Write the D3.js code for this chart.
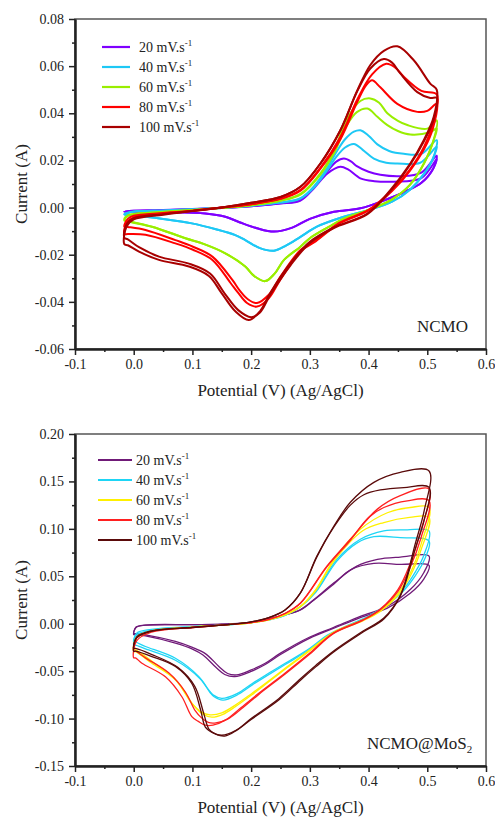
<!DOCTYPE html>
<html>
<head>
<meta charset="utf-8">
<script src="https://cdnjs.cloudflare.com/ajax/libs/d3/7.8.5/d3.min.js"></script>
<style>
	body { margin: 0; background: #fff; }
	svg text { font-family: "Liberation Serif", "Times New Roman", serif; fill: #222; }
</style>
</head>
<body>
<div class="chart"></div>
<script>
// scan rates (mV/s) and colours
var rates = ['20', '40', '60', '80', '100'];
var ncmoColors = ['#7f00ff', '#1ec8f5', '#99ee00', '#ff0000', '#a80000'];
var mosColors = ['#701a78', '#1ed5f5', '#fff000', '#ff2020', '#5a0a0a'];

// axis ticks
var xTicks = [-0.1, 0.0, 0.1, 0.2, 0.3, 0.4, 0.5, 0.6];
var xMinor = [-0.05, 0.05, 0.15, 0.25, 0.35, 0.45, 0.55];
var ncmoYTicks = [-0.06, -0.04, -0.02, 0.00, 0.02, 0.04, 0.06, 0.08];
var ncmoYMinor = [-0.05, -0.03, -0.01, 0.01, 0.03, 0.05, 0.07];
var mosYTicks = [-0.15, -0.10, -0.05, 0.00, 0.05, 0.10, 0.15, 0.20];
var mosYMinor = [-0.125, -0.075, -0.025, 0.025, 0.075, 0.125, 0.175];

// NCMO: [potential V, current A], anodic sweep then cathodic sweep, two cycles
var ncmoUp1 = [
	[[-0.016,-0.0018],[0.0,-0.0014],[0.05,-0.0011],[0.1,-0.0007],[0.15,-0.0002],[0.2,0.0006],[0.25,0.0018],[0.284,0.0032],[0.307,0.0088],[0.33,0.0155],[0.345,0.0195],[0.358,0.0208],[0.37,0.0196],[0.38,0.0176],[0.40,0.0152],[0.42,0.0139],[0.454,0.0133],[0.49,0.0148],[0.516,0.022]],
	[[-0.016,-0.003],[0.0,-0.0018],[0.05,-0.0013],[0.1,-0.0008],[0.15,-0.0002],[0.2,0.0008],[0.25,0.0022],[0.284,0.004],[0.307,0.009],[0.33,0.017],[0.345,0.0235],[0.36,0.029],[0.375,0.0322],[0.386,0.0328],[0.40,0.0305],[0.415,0.0268],[0.435,0.024],[0.46,0.0228],[0.49,0.0228],[0.516,0.0286]],
	[[-0.016,-0.0055],[-0.01,-0.0035],[0.0,-0.0028],[0.05,-0.0019],[0.1,-0.0011],[0.15,-0.0002],[0.2,0.001],[0.25,0.003],[0.284,0.0058],[0.318,0.0145],[0.341,0.024],[0.363,0.0375],[0.386,0.0452],[0.403,0.0463],[0.418,0.0445],[0.432,0.040],[0.45,0.0368],[0.466,0.035],[0.50,0.0335],[0.516,0.037]],
	[[-0.016,-0.008],[-0.01,-0.0048],[0.0,-0.0035],[0.05,-0.0023],[0.1,-0.0013],[0.15,0.0],[0.2,0.0014],[0.25,0.0038],[0.284,0.0075],[0.318,0.017],[0.352,0.030],[0.381,0.046],[0.406,0.0565],[0.43,0.061],[0.445,0.0595],[0.46,0.0555],[0.49,0.0495],[0.516,0.048]],
	[[-0.016,-0.0155],[-0.012,-0.008],[0.0,-0.005],[0.05,-0.003],[0.1,-0.0015],[0.15,0.0],[0.2,0.002],[0.25,0.0045],[0.284,0.0088],[0.318,0.0187],[0.352,0.0328],[0.381,0.0498],[0.403,0.0605],[0.426,0.0665],[0.449,0.0684],[0.477,0.0625],[0.505,0.0526],[0.516,0.05]]
];
var ncmoDown1 = [
	[[0.516,0.022],[0.51,0.0165],[0.49,0.0105],[0.46,0.0065],[0.426,0.003],[0.386,-0.0003],[0.341,-0.0018],[0.30,-0.0048],[0.27,-0.0085],[0.239,-0.0102],[0.21,-0.0088],[0.18,-0.0062],[0.156,-0.0039],[0.122,-0.0025],[0.06,-0.0019],[-0.01,-0.0018]],
	[[0.516,0.0286],[0.51,0.021],[0.495,0.0145],[0.47,0.0075],[0.44,0.0025],[0.40,-0.001],[0.358,-0.0039],[0.312,-0.0081],[0.284,-0.0124],[0.26,-0.016],[0.239,-0.0183],[0.215,-0.0172],[0.19,-0.0138],[0.173,-0.0117],[0.14,-0.0092],[0.099,-0.0067],[0.05,-0.0048],[0.02,-0.0039],[-0.01,-0.0032]],
	[[0.516,0.037],[0.51,0.028],[0.495,0.019],[0.47,0.0095],[0.44,0.0035],[0.40,-0.001],[0.36,-0.0045],[0.33,-0.0085],[0.30,-0.013],[0.284,-0.0166],[0.256,-0.0222],[0.24,-0.028],[0.224,-0.0312],[0.205,-0.029],[0.19,-0.025],[0.156,-0.0194],[0.12,-0.0155],[0.088,-0.013],[0.031,-0.0081],[-0.01,-0.0058]],
	[[0.516,0.048],[0.51,0.036],[0.495,0.026],[0.47,0.016],[0.44,0.0075],[0.40,-0.001],[0.35,-0.0065],[0.307,-0.0145],[0.284,-0.018],[0.25,-0.0293],[0.23,-0.037],[0.21,-0.0405],[0.195,-0.039],[0.18,-0.035],[0.168,-0.0307],[0.134,-0.0208],[0.1,-0.0165],[0.071,-0.0138],[0.02,-0.0095],[-0.01,-0.0082]],
	[[0.516,0.05],[0.511,0.0385],[0.494,0.0286],[0.471,0.0187],[0.437,0.0074],[0.398,-0.0025],[0.34,-0.0085],[0.30,-0.0145],[0.267,-0.0236],[0.233,-0.036],[0.215,-0.044],[0.196,-0.0477],[0.173,-0.044],[0.15,-0.0364],[0.128,-0.029],[0.094,-0.025],[0.043,-0.0222],[0.009,-0.0187],[-0.01,-0.016]]
];
var ncmoUp2 = [
	[[-0.016,-0.0017],[0.0,-0.0013],[0.05,-0.001],[0.1,-0.0006],[0.15,-0.0001],[0.2,0.0006],[0.25,0.0017],[0.284,0.003],[0.307,0.0082],[0.33,0.0145],[0.352,0.0173],[0.365,0.0162],[0.386,0.0124],[0.41,0.0112],[0.443,0.011],[0.49,0.0125],[0.516,0.0205]],
	[[-0.016,-0.0028],[0.0,-0.0017],[0.05,-0.0012],[0.1,-0.0007],[0.15,-0.0001],[0.2,0.0008],[0.25,0.0021],[0.284,0.0038],[0.307,0.0085],[0.33,0.016],[0.345,0.0215],[0.36,0.0255],[0.375,0.027],[0.39,0.0245],[0.409,0.0208],[0.43,0.019],[0.449,0.0187],[0.488,0.019],[0.516,0.0258]],
	[[-0.016,-0.005],[-0.01,-0.0033],[0.0,-0.0027],[0.05,-0.0018],[0.1,-0.001],[0.15,-0.0001],[0.2,0.001],[0.25,0.0029],[0.284,0.0055],[0.318,0.014],[0.341,0.023],[0.363,0.035],[0.38,0.0405],[0.398,0.042],[0.415,0.0385],[0.432,0.035],[0.45,0.0325],[0.471,0.031],[0.505,0.032],[0.516,0.0335]],
	[[-0.016,-0.0112],[-0.012,-0.0065],[0.0,-0.0042],[0.05,-0.0025],[0.1,-0.0014],[0.15,0.0],[0.2,0.0014],[0.25,0.0037],[0.284,0.0072],[0.318,0.0165],[0.352,0.029],[0.381,0.045],[0.396,0.052],[0.406,0.054],[0.42,0.051],[0.449,0.044],[0.483,0.0406],[0.50,0.041],[0.516,0.044]],
	[[-0.016,-0.0128],[-0.012,-0.007],[0.0,-0.0045],[0.05,-0.0028],[0.1,-0.0014],[0.15,0.0],[0.2,0.002],[0.25,0.0045],[0.284,0.0088],[0.318,0.0187],[0.352,0.0328],[0.381,0.0495],[0.403,0.059],[0.426,0.063],[0.44,0.0615],[0.454,0.0569],[0.483,0.049],[0.505,0.0465],[0.516,0.0465]]
];
var ncmoDown2 = [
	ncmoDown1[0],
	ncmoDown1[1],
	ncmoDown1[2],
	[[0.516,0.044],[0.51,0.034],[0.495,0.025],[0.47,0.0155],[0.44,0.007],[0.40,-0.0012],[0.35,-0.0068],[0.307,-0.0148],[0.284,-0.0185],[0.25,-0.0305],[0.23,-0.0385],[0.21,-0.042],[0.193,-0.0405],[0.178,-0.0362],[0.165,-0.032],[0.134,-0.0222],[0.1,-0.0178],[0.071,-0.0152],[0.02,-0.0115],[-0.01,-0.0112]],
	[[0.516,0.0465],[0.511,0.0375],[0.494,0.028],[0.471,0.0183],[0.437,0.007],[0.398,-0.0028],[0.34,-0.0088],[0.30,-0.015],[0.267,-0.0245],[0.233,-0.0368],[0.215,-0.0445],[0.2,-0.0465],[0.178,-0.0435],[0.155,-0.0365],[0.13,-0.028],[0.094,-0.0238],[0.043,-0.0208],[0.009,-0.0168],[-0.01,-0.0135]]
];

// NCMO@MoS2
var mosUp1 = [
	[[0.0,-0.0105],[0.004,-0.004],[0.02,-0.0015],[0.1,-0.001],[0.15,-0.0005],[0.2,0.0015],[0.23,0.005],[0.258,0.0095],[0.284,0.0148],[0.307,0.0254],[0.341,0.0431],[0.38,0.0607],[0.415,0.0678],[0.454,0.0702],[0.503,0.0713]],
	[[0.0,-0.0195],[0.005,-0.01],[0.03,-0.006],[0.1,-0.003],[0.15,-0.0015],[0.2,0.001],[0.23,0.004],[0.258,0.009],[0.284,0.018],[0.31,0.034],[0.346,0.0678],[0.386,0.089],[0.426,0.0978],[0.466,0.0989],[0.503,0.0978]],
	[[0.0,-0.0295],[0.005,-0.015],[0.03,-0.008],[0.1,-0.0035],[0.15,-0.0015],[0.2,0.001],[0.23,0.004],[0.258,0.0095],[0.284,0.0184],[0.31,0.036],[0.341,0.0678],[0.386,0.0996],[0.432,0.117],[0.471,0.1225],[0.503,0.1225]],
	[[0.0,-0.036],[0.005,-0.018],[0.03,-0.009],[0.1,-0.004],[0.15,-0.0015],[0.2,0.0012],[0.23,0.0045],[0.258,0.011],[0.284,0.0219],[0.329,0.0607],[0.369,0.089],[0.415,0.1208],[0.454,0.135],[0.503,0.142]],
	[[0.0,-0.029],[0.005,-0.015],[0.03,-0.008],[0.1,-0.004],[0.15,-0.0015],[0.2,0.002],[0.23,0.0065],[0.258,0.0148],[0.284,0.0325],[0.312,0.0713],[0.341,0.103],[0.369,0.128],[0.409,0.149],[0.454,0.1596],[0.503,0.161]]
];
var mosDown1 = [
	[[0.503,0.0713],[0.494,0.0537],[0.471,0.036],[0.432,0.0184],[0.386,0.0078],[0.34,-0.004],[0.30,-0.014],[0.25,-0.031],[0.224,-0.0417],[0.199,-0.049],[0.175,-0.054],[0.16,-0.0525],[0.145,-0.045],[0.122,-0.0315],[0.1,-0.025],[0.071,-0.0187],[0.02,-0.0117],[0.003,-0.0105]],
	[[0.503,0.0978],[0.494,0.072],[0.48,0.055],[0.46,0.037],[0.43,0.02],[0.40,0.008],[0.36,-0.003],[0.33,-0.012],[0.30,-0.0258],[0.258,-0.0417],[0.225,-0.054],[0.202,-0.063],[0.175,-0.074],[0.15,-0.0787],[0.135,-0.075],[0.128,-0.07],[0.111,-0.0558],[0.071,-0.0364],[0.02,-0.024],[0.003,-0.0195]],
	[[0.503,0.1225],[0.49,0.085],[0.47,0.052],[0.45,0.032],[0.42,0.014],[0.39,0.004],[0.34,-0.009],[0.30,-0.0275],[0.26,-0.046],[0.224,-0.063],[0.2,-0.074],[0.173,-0.0858],[0.15,-0.094],[0.13,-0.096],[0.115,-0.093],[0.099,-0.084],[0.071,-0.059],[0.031,-0.0417],[0.003,-0.0295]],
	[[0.503,0.142],[0.49,0.10],[0.47,0.062],[0.45,0.036],[0.42,0.0155],[0.39,0.004],[0.34,-0.0099],[0.30,-0.031],[0.258,-0.052],[0.213,-0.0734],[0.18,-0.09],[0.156,-0.1017],[0.135,-0.107],[0.122,-0.107],[0.11,-0.103],[0.099,-0.098],[0.082,-0.077],[0.054,-0.056],[0.014,-0.0417],[0.003,-0.036]],
	[[0.503,0.161],[0.495,0.12],[0.48,0.0854],[0.454,0.03],[0.426,0.006],[0.39,-0.008],[0.34,-0.029],[0.31,-0.044],[0.284,-0.058],[0.247,-0.079],[0.2,-0.1],[0.175,-0.112],[0.15,-0.1176],[0.135,-0.115],[0.122,-0.109],[0.114,-0.091],[0.099,-0.063],[0.071,-0.045],[0.031,-0.0346],[0.003,-0.029]]
];
var mosUp2 = [
	[[0.0,-0.0115],[0.004,-0.0035],[0.02,-0.0014],[0.1,-0.001],[0.15,-0.0005],[0.2,0.0014],[0.23,0.0048],[0.258,0.0092],[0.284,0.0145],[0.307,0.025],[0.341,0.042],[0.37,0.057],[0.409,0.0636],[0.454,0.0625],[0.503,0.0614]],
	[[0.0,-0.0225],[0.005,-0.012],[0.03,-0.007],[0.1,-0.003],[0.15,-0.0015],[0.2,0.001],[0.23,0.004],[0.258,0.0088],[0.284,0.0178],[0.31,0.033],[0.346,0.066],[0.38,0.085],[0.409,0.0918],[0.454,0.0907],[0.503,0.0872]],
	[[0.0,-0.0275],[0.005,-0.014],[0.03,-0.0075],[0.1,-0.0035],[0.15,-0.0015],[0.2,0.001],[0.23,0.004],[0.258,0.0093],[0.284,0.018],[0.31,0.035],[0.341,0.066],[0.39,0.098],[0.426,0.1067],[0.47,0.112],[0.503,0.112]],
	[[0.0,-0.029],[0.005,-0.015],[0.03,-0.008],[0.1,-0.004],[0.15,-0.0015],[0.2,0.0012],[0.23,0.0045],[0.258,0.0108],[0.284,0.0215],[0.329,0.06],[0.369,0.088],[0.40,0.112],[0.426,0.1225],[0.466,0.1296],[0.503,0.1296]],
	[[0.0,-0.026],[0.005,-0.014],[0.03,-0.0075],[0.1,-0.0038],[0.15,-0.0015],[0.2,0.002],[0.23,0.0063],[0.258,0.0145],[0.284,0.0325],[0.312,0.0705],[0.341,0.102],[0.369,0.125],[0.392,0.136],[0.42,0.141],[0.46,0.1435],[0.503,0.1437]]
];
var mosDown2 = [
	[[0.503,0.0614],[0.494,0.047],[0.471,0.032],[0.432,0.0165],[0.386,0.0065],[0.34,-0.005],[0.30,-0.0152],[0.25,-0.0325],[0.224,-0.043],[0.199,-0.0505],[0.172,-0.0558],[0.155,-0.0535],[0.14,-0.046],[0.118,-0.033],[0.1,-0.0268],[0.071,-0.0205],[0.02,-0.0128],[0.003,-0.0115]],
	[[0.503,0.0872],[0.494,0.066],[0.48,0.051],[0.46,0.035],[0.43,0.019],[0.40,0.0072],[0.36,-0.0038],[0.33,-0.0128],[0.30,-0.027],[0.258,-0.043],[0.225,-0.0555],[0.202,-0.0645],[0.175,-0.0755],[0.152,-0.0805],[0.137,-0.077],[0.13,-0.0725],[0.113,-0.058],[0.071,-0.0385],[0.02,-0.0265],[0.003,-0.0225]],
	[[0.503,0.112],[0.49,0.079],[0.47,0.049],[0.45,0.030],[0.42,0.013],[0.39,0.003],[0.34,-0.0098],[0.30,-0.0285],[0.26,-0.047],[0.224,-0.064],[0.2,-0.0755],[0.173,-0.0875],[0.152,-0.0955],[0.133,-0.0985],[0.118,-0.0955],[0.102,-0.086],[0.074,-0.061],[0.031,-0.0395],[0.003,-0.0275]],
	[[0.503,0.1296],[0.49,0.092],[0.47,0.058],[0.45,0.034],[0.42,0.0148],[0.39,0.0035],[0.34,-0.0105],[0.30,-0.032],[0.258,-0.053],[0.213,-0.0745],[0.18,-0.0915],[0.16,-0.1005],[0.14,-0.1045],[0.127,-0.104],[0.115,-0.099],[0.105,-0.092],[0.088,-0.072],[0.06,-0.052],[0.02,-0.036],[0.003,-0.029]],
	[[0.503,0.1437],[0.495,0.11],[0.48,0.08],[0.454,0.029],[0.426,0.005],[0.39,-0.009],[0.34,-0.03],[0.31,-0.0455],[0.284,-0.0595],[0.247,-0.0805],[0.2,-0.101],[0.175,-0.1125],[0.155,-0.1185],[0.14,-0.1165],[0.128,-0.111],[0.119,-0.094],[0.104,-0.066],[0.075,-0.046],[0.031,-0.0325],[0.003,-0.026]]
];

var width = 495, height = 818;
var left = 75, right = 486;

var svg = d3.select('.chart')
	.append('svg')
	.attr('width', width)
	.attr('height', height);

var fmt1 = function (d) { return d3.format('.1f')(d).replace('\u2212', '-'); };
var fmt2 = function (d) { return d3.format('.2f')(d).replace('\u2212', '-'); };

drawPanel({
	top: 19, bottom: 349, yDomain: [-0.06, 0.08],
	yTicks: ncmoYTicks, yMinor: ncmoYMinor,
	up1: ncmoUp1, down1: ncmoDown1, up2: ncmoUp2, down2: ncmoDown2,
	colors: ncmoColors, lw: 2,
	legendX: 102, legendLen: 28, legendY: 47, legendLw: 2.2,
	name: 'NCMO', nameX: 417, nameY: 332
});

drawPanel({
	top: 434, bottom: 766, yDomain: [-0.15, 0.20],
	yTicks: mosYTicks, yMinor: mosYMinor,
	up1: mosUp1, down1: mosDown1, up2: mosUp2, down2: mosDown2,
	colors: mosColors, lw: 1.3,
	legendX: 98, legendLen: 34, legendY: 460, legendLw: 2,
	name: 'NCMO@MoS', sub: '2', nameX: 367, nameY: 749
});

function drawPanel(p) {
	var xScale = d3.scaleLinear().domain([-0.1, 0.6]).range([left, right]);
	var yScale = d3.scaleLinear().domain(p.yDomain).range([p.bottom, p.top]);

	svg.append('rect')
		.attr('x', left).attr('y', p.top)
		.attr('width', right - left).attr('height', p.bottom - p.top)
		.attr('fill', 'none')
		.attr('stroke', '#555')
		.attr('stroke-width', 1.5);

	var line = d3.line()
		.x(function (d) { return xScale(d[0]); })
		.y(function (d) { return yScale(d[1]); })
		.curve(d3.curveCatmullRomClosed.alpha(0.5));

	for (var i = 0; i < rates.length; i++) {
		var cycles = [[p.up1[i], p.down1[i]], [p.up2[i], p.down2[i]]];
		for (var j = 0; j < cycles.length; j++) {
			svg.append('path')
				.attr('d', line(cycles[j][0].concat(cycles[j][1].slice(1))))
				.style('fill', 'none')
				.style('stroke', p.colors[i])
				.style('stroke-width', p.lw)
				.style('stroke-linejoin', 'round');
		}
	}

	// x axis, major then minor
	var gx = svg.append('g')
		.attr('transform', 'translate(0,' + p.bottom + ')')
		.call(d3.axisBottom(xScale).tickValues(xTicks).tickFormat(fmt1)
			.tickSize(6).tickPadding(4).tickSizeOuter(0));
	var gx2 = svg.append('g')
		.attr('transform', 'translate(0,' + p.bottom + ')')
		.call(d3.axisBottom(xScale).tickValues(xMinor).tickFormat('')
			.tickSize(3).tickSizeOuter(0));

	var gy = svg.append('g')
		.attr('transform', 'translate(' + left + ',0)')
		.call(d3.axisLeft(yScale).tickValues(p.yTicks).tickFormat(fmt2)
			.tickSize(6).tickPadding(5).tickSizeOuter(0));
	var gy2 = svg.append('g')
		.attr('transform', 'translate(' + left + ',0)')
		.call(d3.axisLeft(yScale).tickValues(p.yMinor).tickFormat('')
			.tickSize(3).tickSizeOuter(0));

	[gx, gx2, gy, gy2].forEach(function (g) {
		g.attr('font-family', null).attr('font-size', null);
		g.select('.domain').attr('stroke', '#222').attr('stroke-width', 2);
		g.selectAll('.tick line').attr('stroke', '#222').attr('stroke-width', 1.5);
		g.selectAll('.tick text').style('font-size', '14px').attr('fill', '#222');
	});

	// axis titles
	svg.append('text')
		.attr('x', (left + right) / 2)
		.attr('y', p.bottom + 47)
		.attr('text-anchor', 'middle')
		.style('font-size', '17px')
		.text('Potential (V) (Ag/AgCl)');

	svg.append('text')
		.attr('transform', 'translate(27,' + ((p.top + p.bottom) / 2) + ') rotate(-90)')
		.attr('text-anchor', 'middle')
		.style('font-size', '17px')
		.text('Current (A)');

	// legend
	for (var k = 0; k < rates.length; k++) {
		var ly = p.legendY + k * 20;
		svg.append('line')
			.attr('x1', p.legendX).attr('x2', p.legendX + p.legendLen)
			.attr('y1', ly).attr('y2', ly)
			.style('stroke', p.colors[k])
			.style('stroke-width', p.legendLw);
		var t = svg.append('text')
			.attr('x', p.legendX + p.legendLen + (p.sub ? 4 : 9))
			.attr('y', ly + 5)
			.style('font-size', '14px');
		t.append('tspan').text(rates[k] + ' mV.s');
		t.append('tspan').attr('dy', '-6').style('font-size', '9px').text('-1');
	}

	// sample name
	var nt = svg.append('text')
		.attr('x', p.nameX)
		.attr('y', p.nameY)
		.style('font-size', '17px');
	nt.append('tspan').text(p.name);
	if (p.sub) {
		nt.append('tspan').attr('dy', '4').style('font-size', '11px').text(p.sub);
	}
}
</script>
</body>
</html>
